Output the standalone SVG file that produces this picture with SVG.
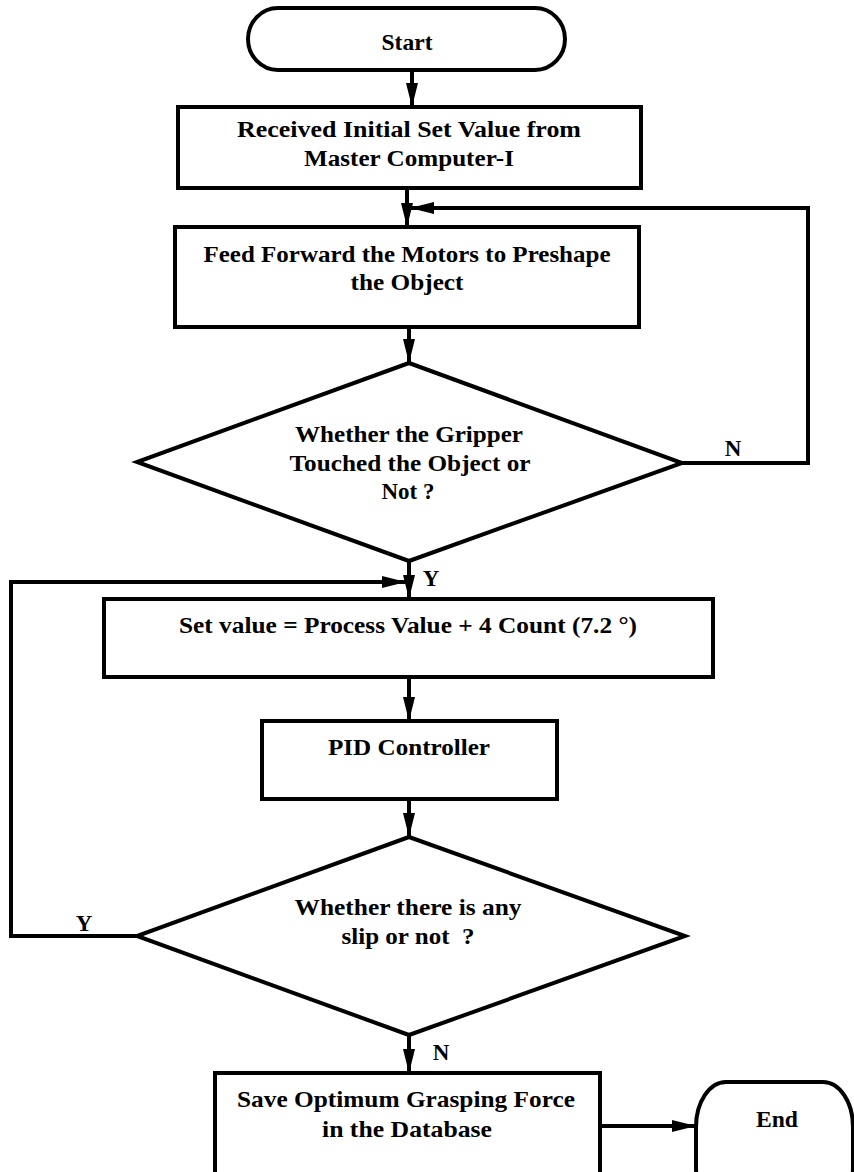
<svg xmlns="http://www.w3.org/2000/svg" width="854" height="1172" viewBox="0 0 854 1172">
<style>
.shape{fill:#fff;stroke:#000;stroke-width:4;stroke-linejoin:miter}
.conn{fill:none;stroke:#000;stroke-width:4;stroke-linejoin:miter}
.t{font-family:"Liberation Serif","Times New Roman",serif;font-weight:bold;font-size:23px;fill:#000;text-anchor:middle}
.lbl{font-family:"Liberation Serif","Times New Roman",serif;font-weight:bold;font-size:23px;fill:#000;text-anchor:middle}
</style>
<defs>
<marker id="arr" markerUnits="userSpaceOnUse" markerWidth="26" markerHeight="14" refX="24" refY="6" orient="auto">
<path d="M0,0 L24,6 L0,12 Z" fill="#000"/>
</marker>
</defs>
<rect width="854" height="1172" fill="#fff"/>
<g id="connectors">
<line class="conn" x1="412" y1="70" x2="412" y2="107" marker-end="url(#arr)"/>
<line class="conn" x1="407" y1="188" x2="407" y2="227" marker-end="url(#arr)"/>
<line class="conn" x1="409" y1="327" x2="409" y2="363" marker-end="url(#arr)"/>
<path class="conn" d="M682,463 H808 V208 H410" marker-end="url(#arr)"/>
<line class="conn" x1="409" y1="561" x2="409" y2="599" marker-end="url(#arr)"/>
<path class="conn" d="M137,936 H11 V582 H406" marker-end="url(#arr)"/>
<line class="conn" x1="409" y1="677" x2="409" y2="721" marker-end="url(#arr)"/>
<line class="conn" x1="409" y1="799" x2="409" y2="837" marker-end="url(#arr)"/>
<line class="conn" x1="409" y1="1035" x2="409" y2="1073" marker-end="url(#arr)"/>
<line class="conn" x1="600" y1="1126" x2="696" y2="1126" marker-end="url(#arr)"/>
<text class="lbl" x="733" y="456">N</text>
<text class="lbl" x="431" y="586">Y</text>
<text class="lbl" x="84" y="931">Y</text>
<text class="lbl" x="441" y="1060">N</text>
</g>
<g id="start">
<rect class="shape" x="248" y="8" width="317" height="62" rx="30" ry="31"/>
<text class="t" x="407" y="50" textLength="51" lengthAdjust="spacingAndGlyphs">Start</text>
</g>
<g id="received">
<rect class="shape" x="178" y="107" width="463" height="81"/>
<text class="t" x="409" y="137" textLength="344" lengthAdjust="spacingAndGlyphs">Received Initial Set Value from</text>
<text class="t" x="409" y="166" textLength="210" lengthAdjust="spacingAndGlyphs">Master Computer-I</text>
</g>
<g id="feedforward">
<rect class="shape" x="175" y="227" width="464" height="100"/>
<text class="t" x="407" y="262" textLength="407" lengthAdjust="spacingAndGlyphs">Feed Forward the Motors to Preshape</text>
<text class="t" x="407" y="290" textLength="113" lengthAdjust="spacingAndGlyphs">the Object</text>
</g>
<g id="touched">
<polygon class="shape" points="409,363 682,463 409,561 137,462"/>
<text class="t" x="409" y="442" textLength="228" lengthAdjust="spacingAndGlyphs">Whether the Gripper</text>
<text class="t" x="410" y="471" textLength="241" lengthAdjust="spacingAndGlyphs">Touched the Object or</text>
<text class="t" x="408" y="499" textLength="53" lengthAdjust="spacingAndGlyphs">Not ?</text>
</g>
<g id="setvalue">
<rect class="shape" x="104" y="599" width="609" height="78"/>
<text class="t" x="408" y="633" textLength="458" lengthAdjust="spacingAndGlyphs">Set value = Process Value + 4 Count (7.2 °)</text>
</g>
<g id="pid">
<rect class="shape" x="262" y="721" width="295" height="78"/>
<text class="t" x="409" y="755" textLength="162" lengthAdjust="spacingAndGlyphs">PID Controller</text>
</g>
<g id="slip">
<polygon class="shape" points="409,837 685,936 409,1035 137,936"/>
<text class="t" x="408" y="915" textLength="227" lengthAdjust="spacingAndGlyphs">Whether there is any</text>
<text class="t" x="408" y="944" textLength="133" lengthAdjust="spacingAndGlyphs" xml:space="preserve" style="white-space:pre">slip or not  ?</text>
</g>
<g id="save">
<rect class="shape" x="215" y="1073" width="385" height="120"/>
<text class="t" x="406" y="1107" textLength="338" lengthAdjust="spacingAndGlyphs">Save Optimum Grasping Force</text>
<text class="t" x="407" y="1137" textLength="170" lengthAdjust="spacingAndGlyphs">in the Database</text>
</g>
<g id="end">
<rect class="shape" x="696" y="1082" width="157" height="130" rx="30" ry="45"/>
<text class="t" x="777" y="1127" textLength="42" lengthAdjust="spacingAndGlyphs">End</text>
</g>
</svg>
